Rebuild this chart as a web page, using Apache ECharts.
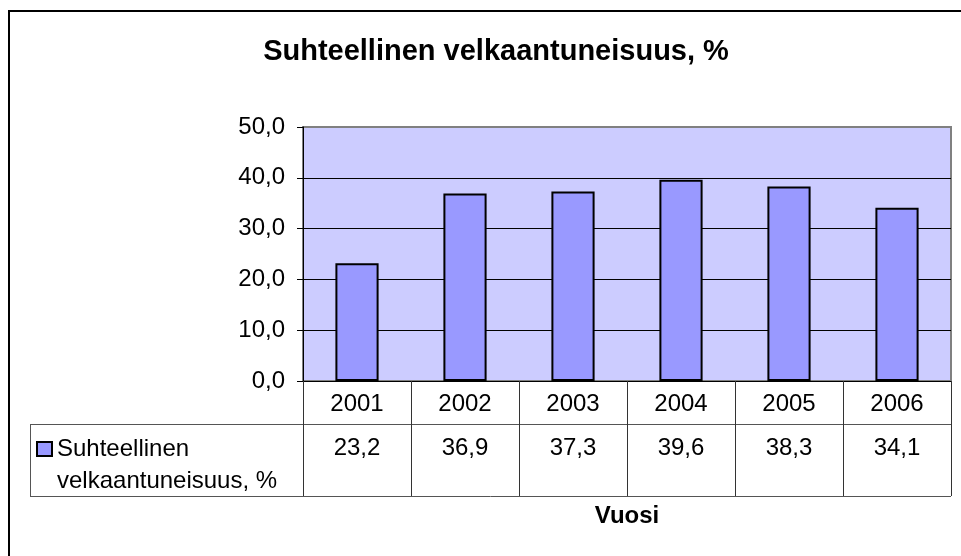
<!DOCTYPE html>
<html>
<head>
<meta charset="utf-8">
<script src="https://cdn.jsdelivr.net/npm/echarts@6/dist/echarts.min.js"></script>
<style>
  html, body { margin: 0; padding: 0; background: #fff; }
  #chart { width: 961px; height: 556px; }
</style>
</head>
<body>
<div id="chart"></div>
<script>
const years = ['2001', '2002', '2003', '2004', '2005', '2006'];
const debtRatio = [23.2, 36.9, 37.3, 39.6, 38.3, 34.1];
const yTicks = [0, 10, 20, 30, 40, 50];
const seriesName = 'Suhteellinen velkaantuneisuus, %';

const fi = v => v.toFixed(1).replace('.', ',');
const font = "'Liberation Sans', Arial, sans-serif";

const chart = echarts.init(document.getElementById('chart'));

chart.setOption({
    animation: false,
    textStyle: { fontFamily: font },
    title: {
        text: 'Suhteellinen velkaantuneisuus, %',
        left: 491,
        textAlign: 'center',
        top: 32,
        textStyle: { fontSize: 29, fontWeight: 'bold', color: '#000', fontFamily: font }
    },
    legend: {
        left: 36,
        top: 401,
        padding: 0,
        itemWidth: 15,
        itemHeight: 14,
        icon: 'rect',
        // blank first line keeps the icon beside the first text line
        formatter: () => '\nSuhteellinen\nvelkaantuneisuus, %',
        itemStyle: { color: '#9999FF', borderColor: '#000', borderWidth: 2 },
        textStyle: { fontSize: 24, color: '#000', lineHeight: 32, fontFamily: font }
    },
    grid: {
        left: 303,
        right: 10,
        top: 127,
        height: 254,
        show: true,
        backgroundColor: '#CCCCFF',
        borderColor: '#808080',
        borderWidth: 2
    },
    xAxis: [
        {
            type: 'category',
            data: years,
            position: 'bottom',
            axisLine: { show: true, lineStyle: { color: '#000', width: 1 } },
            axisTick: { show: true, length: 43, lineStyle: { color: '#333' } },
            axisLabel: { color: '#000', fontSize: 24, margin: 11, fontFamily: font }
        },
        {
            type: 'category',
            data: debtRatio.map(fi),
            position: 'bottom',
            offset: 43,
            axisLine: { show: true, lineStyle: { color: '#555', width: 1 } },
            axisTick: { show: true, length: 72, lineStyle: { color: '#333' } },
            axisLabel: { color: '#000', fontSize: 24, margin: 12, fontFamily: font },
            name: 'Vuosi',
            nameLocation: 'middle',
            nameGap: 80,
            nameTextStyle: { fontSize: 24, fontWeight: 'bold', color: '#000', fontFamily: font }
        }
    ],
    yAxis: {
        type: 'value',
        min: yTicks[0],
        max: yTicks[yTicks.length - 1],
        interval: 10,
        axisLine: { show: true, lineStyle: { color: '#000', width: 1 } },
        axisTick: { show: true, length: 6, lineStyle: { color: '#000' } },
        axisLabel: { color: '#000', fontSize: 24, margin: 18, formatter: v => fi(v), fontFamily: font },
        splitLine: { show: true, lineStyle: { color: ['#000', '#000', '#000', '#000', '#000', '#808080'], width: 1 } }
    },
    series: [{
        name: seriesName,
        type: 'bar',
        data: debtRatio,
        barWidth: '40%',
        itemStyle: { color: '#9999FF', borderColor: '#000', borderWidth: 2 }
    }],
    graphic: [
        { type: 'rect', shape: { x: 9, y: 11, width: 1000, height: 600 }, style: { fill: null, stroke: '#000', lineWidth: 2 }, silent: true, z: 100 },
        { type: 'line', shape: { x1: 30, y1: 424.5, x2: 951, y2: 424.5 }, style: { stroke: '#555', lineWidth: 1 }, silent: true },
        { type: 'line', shape: { x1: 30, y1: 496.5, x2: 951, y2: 496.5 }, style: { stroke: '#555', lineWidth: 1 }, silent: true },
        { type: 'line', shape: { x1: 30.5, y1: 424, x2: 30.5, y2: 497 }, style: { stroke: '#555', lineWidth: 1 }, silent: true }
    ]
});
</script>
</body>
</html>
